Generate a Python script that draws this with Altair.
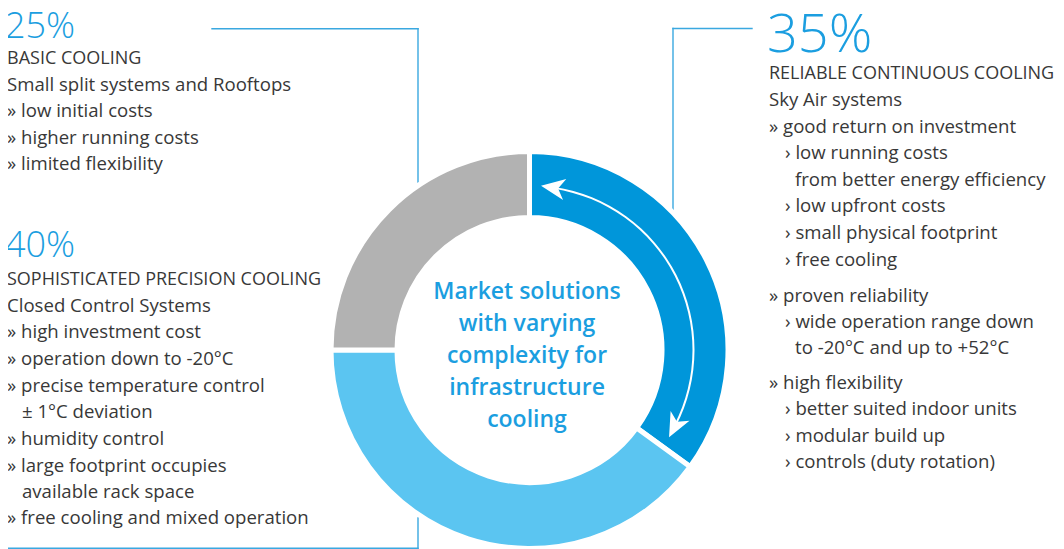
import math
import altair as alt
import pandas as pd

# ---------------- data ----------------
segment_names = ["RELIABLE CONTINUOUS COOLING", "SOPHISTICATED PRECISION COOLING", "BASIC COOLING"]
shares = [35, 40, 25]
share_labels = ["35%", "40%", "25%"]
slice_colors = ["#0096da", "#5bc5f1", "#b2b2b2"]

basic_lines = ["Small split systems and Rooftops", "» low initial costs",
               "» higher running costs", "» limited flexibility"]
precision_lines = ["Closed Control Systems", "» high investment cost",
                   "» operation down to -20°C", "» precise temperature control",
                   "± 1°C deviation", "» humidity control", "» large footprint occupies",
                   "available rack space", "» free cooling and mixed operation"]
reliable_lines = ["Sky Air systems", "» good return on investment", "› low running costs",
                  "from better energy efficiency", "› low upfront costs",
                  "› small physical footprint", "› free cooling", "» proven reliability",
                  "› wide operation range down", "to -20°C and up to +52°C",
                  "» high flexibility", "› better suited indoor units",
                  "› modular build up", "› controls (duty rotation)"]
center_lines = ["Market solutions", "with varying", "complexity for", "infrastructure", "cooling"]

# ---------------- layout (page pixels, shifted by the 8px page margin) ----------------
OFF = 8
W, H = 1048, 541
CX, CY = 529.5 - OFF, 350 - OFF
R_OUT, R_IN = 196, 135
GAP = 5
FONT = "Open Sans"
TXT = "#383838"
BLUE_TXT = "#1b9ee0"
LINE_BLUE = "#3aa8e0"

basic_x = [7, 7, 7, 7]
basic_y = [91, 117, 144, 170]
precision_x = [7, 7, 7, 7, 22, 7, 7, 22, 7]
precision_y = [312, 338, 365, 392, 418, 445, 472, 498, 524]
reliable_x = [769, 769, 785, 795, 785, 785, 785, 769, 785, 795, 769, 785, 785, 785]
reliable_y = [106, 133, 159, 186, 212, 239, 266, 302, 328, 354, 389, 415, 442, 468]
center_x = 527
center_y = [299, 331, 363, 395, 427]

pct_x = [767, 5, 5]
pct_y = [52, 257, 38]
pct_size = [54, 36, 36]
head_x = [769, 7, 7]
head_y = [79, 285, 64]

connectors = [  # x, y, x2, y2
    (212, 28.7, 418, 28.7), (418, 28.7, 418, 182),
    (673, 28.5, 752, 28.5), (673, 28.5, 673, 210),
    (6, 548.3, 418, 548.3), (418, 518, 418, 548.3),
]

# ---------------- donut ----------------
df_donut = pd.DataFrame({"segment": segment_names, "share": shares, "order": [0, 1, 2]})
donut = alt.Chart(df_donut).mark_arc(
    outerRadius=R_OUT + GAP / 2, innerRadius=R_IN - GAP / 2,
    stroke="white", strokeWidth=GAP
).encode(
    theta=alt.Theta("share:Q", stack=True),
    order=alt.Order("order:Q"),
    color=alt.Color("segment:N", scale=alt.Scale(domain=segment_names, range=slice_colors), legend=None),
    x=alt.value(CX), y=alt.value(CY),
)

# ---------------- circular double arrow inside the first slice ----------------
slice_end = shares[0] / sum(shares) * 2 * math.pi
R_ARROW = 164
tip_inset = math.radians(4)
head_r = 13.3  # half size of arrowhead in px
head_ang = head_r / R_ARROW
a_start = tip_inset + head_ang
a_end = slice_end - tip_inset - head_ang
df_one = pd.DataFrame({"k": [0]})
arrow_arc = alt.Chart(df_one).mark_arc(
    theta=a_start, theta2=a_end, innerRadius=R_ARROW - 1, outerRadius=R_ARROW + 1, color="white"
).encode(x=alt.value(CX), y=alt.value(CY))

heads = pd.DataFrame({
    "x": [CX + R_ARROW * math.sin(a) for a in (a_start, a_end)],
    "y": [CY - R_ARROW * math.cos(a) for a in (a_start, a_end)],
    "rot": [math.degrees(a_start) - 90 + 360, math.degrees(a_end) + 90],
})
ARROW_PATH = "M0,-1 L0.8,0.8 L0,0.3 L-0.8,0.8 Z"
arrow_heads = alt.Chart(heads).mark_point(
    shape=ARROW_PATH, filled=True, fill="white", opacity=1, strokeWidth=0, size=(2 * head_r) ** 2
).encode(
    x=alt.X("x:Q", scale=None), y=alt.Y("y:Q", scale=None), angle=alt.Angle("rot:Q", scale=None)
)

# ---------------- connectors ----------------
df_conn = pd.DataFrame(connectors, columns=["x", "y", "x2", "y2"]) - OFF
conn = alt.Chart(df_conn).mark_rule(color=LINE_BLUE, strokeWidth=1.4, strokeCap="square").encode(
    x=alt.X("x:Q", scale=None), y=alt.Y("y:Q", scale=None),
    x2="x2:Q", y2="y2:Q",
)

# ---------------- texts ----------------
df_pct = pd.DataFrame({"t": share_labels, "x": [v - OFF for v in pct_x],
                       "y": [v - OFF for v in pct_y], "s": pct_size})
pct = alt.Chart(df_pct).mark_text(
    align="left", baseline="alphabetic", font=FONT, fontWeight=300, color=BLUE_TXT
).encode(x=alt.X("x:Q", scale=None), y=alt.Y("y:Q", scale=None),
         size=alt.Size("s:Q", scale=None), text="t:N")

df_head = pd.DataFrame({"t": segment_names, "x": [v - OFF for v in head_x],
                        "y": [v - OFF for v in head_y]})
heading = alt.Chart(df_head).mark_text(
    align="left", baseline="alphabetic", font=FONT, fontSize=18.0, fontWeight=400, color=TXT
).encode(x=alt.X("x:Q", scale=None), y=alt.Y("y:Q", scale=None), text="t:N")

body_rows = []
for lines, xs, ys in ((basic_lines, basic_x, basic_y),
                      (precision_lines, precision_x, precision_y),
                      (reliable_lines, reliable_x, reliable_y)):
    for t, x, y in zip(lines, xs, ys):
        body_rows.append((t, x - OFF, y - OFF))
df_body = pd.DataFrame(body_rows, columns=["t", "x", "y"])
body = alt.Chart(df_body).mark_text(
    align="left", baseline="alphabetic", font=FONT, fontSize=18.6, fontWeight=400, color=TXT
).encode(x=alt.X("x:Q", scale=None), y=alt.Y("y:Q", scale=None), text="t:N")

df_center = pd.DataFrame({"t": center_lines, "x": [center_x - OFF] * len(center_lines),
                          "y": [v - OFF for v in center_y]})
center = alt.Chart(df_center).mark_text(
    align="center", baseline="alphabetic", font=FONT, fontSize=23, fontWeight=600, color=BLUE_TXT
).encode(x=alt.X("x:Q", scale=None), y=alt.Y("y:Q", scale=None), text="t:N")

chart = alt.layer(conn, donut, arrow_arc, arrow_heads, pct, heading, body, center).properties(
    width=W, height=H, padding=0, autosize=alt.AutoSizeParams(type="none"), background="white"
).configure_view(stroke=None)

chart.save("out.html", embed_options={"renderer": "svg", "actions": False})
